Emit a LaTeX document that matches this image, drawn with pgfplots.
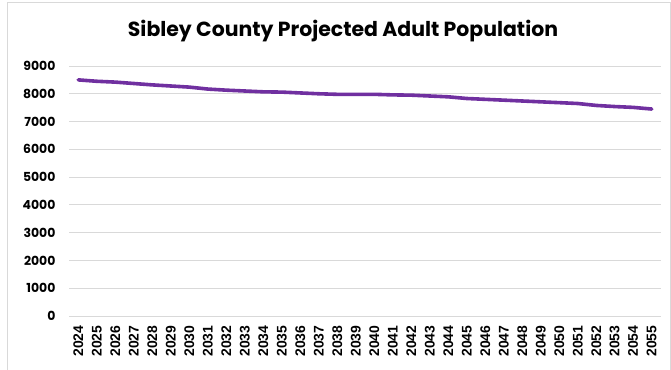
\documentclass[border=0pt]{standalone}
\usepackage{fontspec}
\setmainfont{Liberation Sans}
\newfontfamily\titlefont{Poppins}
\usepackage{pgfplots}
\pgfplotsset{compat=1.18}

\definecolor{linepurple}{HTML}{7030A0}
\definecolor{gridgray}{HTML}{D9D9D9}

\begin{document}
\begin{tikzpicture}
    \begin{axis}[
        scale only axis,
        width=592bp, height=250bp,
        xmin=2023.5, xmax=2055.5,
        ymin=0, ymax=9000,
        xtick={2024,...,2055},
        ytick={0,1000,...,9000},
        ymajorgrids,
        grid style={gridgray, line width=0.9bp},
        axis line style={draw=none},
        major tick length=0pt,
        /pgf/number format/1000 sep={},
        /pgf/number format/assume math mode=true,
        xticklabel style={font=\fontsize{14}{16}\selectfont\bfseries, rotate=90, anchor=east, xshift=-6bp},
        yticklabel style={font=\titlefont\fontsize{12.5}{14}\selectfont\bfseries, anchor=east, xshift=-10bp},
        clip=false,
    ]
        \addplot[linepurple, line width=3.6bp, line join=round, line cap=round] table {
            2024 8500
            2025 8450
            2026 8420
            2027 8370
            2028 8320
            2029 8280
            2030 8240
            2031 8170
            2032 8130
            2033 8100
            2034 8070
            2035 8060
            2036 8030
            2037 8000
            2038 7980
            2039 7980
            2040 7980
            2041 7960
            2042 7950
            2043 7920
            2044 7890
            2045 7830
            2046 7800
            2047 7770
            2048 7740
            2049 7710
            2050 7680
            2051 7650
            2052 7580
            2053 7540
            2054 7510
            2055 7450
        };
    \end{axis}
    % chart frame and title
    \draw[gridgray, line width=1bp]
        ([shift={(-61bp,-60bp)}]current axis.south west)
        -- ([shift={(-61bp,63bp)}]current axis.north west)
        -- ([shift={(9bp,63bp)}]current axis.north east)
        -- ([shift={(9bp,-310bp)}]current axis.north east);
    \node[font=\titlefont\fontsize{20.5}{24}\selectfont\bfseries]
        at ([shift={(274bp,285bp)}]current axis.south west) {Sibley County Projected Adult Population};
    \pgfresetboundingbox
    \useasboundingbox ([shift={(-69bp,-54bp)}]current axis.south west)
        rectangle ([shift={(10bp,66bp)}]current axis.north east);
\end{tikzpicture}
\end{document}
